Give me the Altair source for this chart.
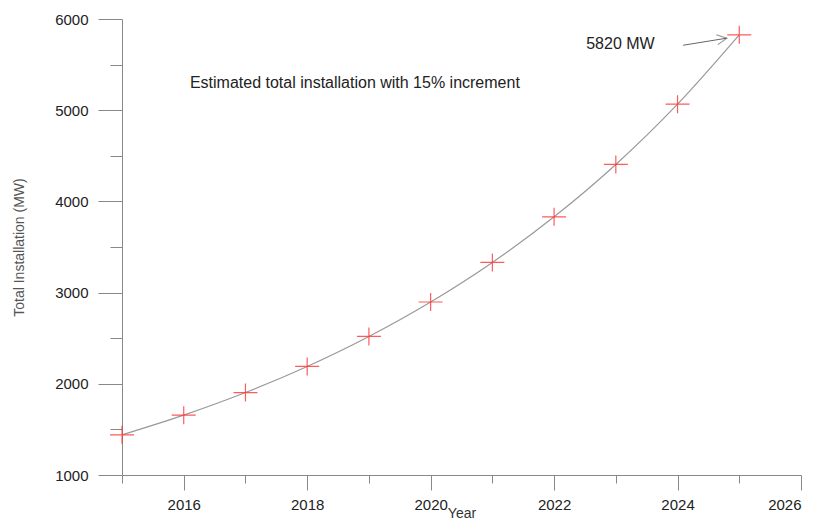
import altair as alt
import pandas as pd

years = [2015, 2016, 2017, 2018, 2019, 2020, 2021, 2022, 2023, 2024, 2025]
install_mw = [1440, 1656, 1904, 2190, 2519, 2897, 3331, 3831, 4405, 5066, 5826]

note_text = ["Estimated total installation with 15% increment"]
note_x = [2016.1]
note_y = [5300]

label_text = ["5820 MW"]
label_x = [2022.52]
label_y = [5726]

arrow_x = [2024.09]
arrow_y = [5712]
arrow_x2 = [2024.80]
arrow_y2 = [5790]

FONT = "Liberation Sans"

df = pd.DataFrame({"Year": years, "MW": install_mw})
notes = pd.DataFrame({"x": note_x, "y": note_y, "t": note_text})
labels = pd.DataFrame({"x": label_x, "y": label_y, "t": label_text})
arrow = pd.DataFrame({"x": arrow_x, "y": arrow_y, "x2": arrow_x2, "y2": arrow_y2})

xscale = alt.Scale(domain=[2015, 2026], nice=False, zero=False)
yscale = alt.Scale(domain=[1000, 6000], nice=False, zero=False)

xaxis = alt.Axis(
    title="Year",
    values=list(range(2015, 2027)),
    labelExpr="datum.value % 2 === 0 ? format(datum.value, 'd') : ''",
    tickSize={"condition": {"test": "datum.value % 2 !== 0", "value": 8}, "value": 15},
    grid=False,
    domainColor="#888888",
    tickColor="#888888",
    labelColor="#222222",
    labelFont=FONT,
    labelFontSize=15,
    labelPadding=7,
    titleFont=FONT,
    titleFontSize=14,
    titleFontWeight="normal",
    titleColor="#333333",
    titlePadding=-6,
)

yaxis = alt.Axis(
    title="Total Installation (MW)",
    values=[1000, 1500, 2000, 2500, 3000, 3500, 4000, 4500, 5000, 5500, 6000],
    labelExpr="datum.value % 1000 === 0 ? format(datum.value, 'd') : ''",
    tickSize={"condition": {"test": "datum.value % 1000 !== 0", "value": 12}, "value": 24},
    grid=False,
    domainColor="#888888",
    tickColor="#888888",
    labelColor="#222222",
    labelFont=FONT,
    labelFontSize=15,
    labelPadding=10,
    titleFont=FONT,
    titleFontSize=14,
    titleFontWeight="normal",
    titleColor="#555555",
    titlePadding=28,
)

line = alt.Chart(df).mark_line(color="#999999", strokeWidth=1.2, interpolate="monotone").encode(
    x=alt.X("Year:Q", scale=xscale, axis=xaxis),
    y=alt.Y("MW:Q", scale=yscale, axis=yaxis),
)

points = alt.Chart(df).mark_point(
    shape="M-1,0L1,0M0,-0.75L0,0.75",
    size=576,
    filled=False,
    color="#ff3333",
    strokeWidth=1.2,
    opacity=0.8,
).encode(x=alt.X("Year:Q", scale=xscale), y=alt.Y("MW:Q", scale=yscale))

note = alt.Chart(notes).mark_text(
    align="left", baseline="middle", font=FONT, fontSize=16, color="#222222"
).encode(x=alt.X("x:Q", scale=xscale), y=alt.Y("y:Q", scale=yscale), text="t:N")

lab = alt.Chart(labels).mark_text(
    align="left", baseline="middle", font=FONT, fontSize=16, color="#222222"
).encode(x=alt.X("x:Q", scale=xscale), y=alt.Y("y:Q", scale=yscale), text="t:N")

shaft = alt.Chart(arrow).mark_rule(color="#666666", strokeWidth=1).encode(
    x=alt.X("x:Q", scale=xscale), y=alt.Y("y:Q", scale=yscale),
    x2="x2:Q", y2="y2:Q",
)

head = alt.Chart(arrow).mark_point(
    shape="M-1,-0.5L0,0L-1,0.5",
    size=400,
    filled=False,
    color="#666666",
    strokeWidth=1,
    angle=351,
).encode(x=alt.X("x2:Q", scale=xscale), y=alt.Y("y2:Q", scale=yscale))

chart = alt.layer(line, points, note, lab, shaft, head).properties(
    width=679,
    height=456,
    autosize=alt.AutoSizeParams(type="none"),
    padding={"left": 122, "top": 19, "right": 24, "bottom": 48},
    background="white",
).configure_view(strokeWidth=0)

chart.save("out.html", embed_options={"renderer": "svg", "actions": False})
